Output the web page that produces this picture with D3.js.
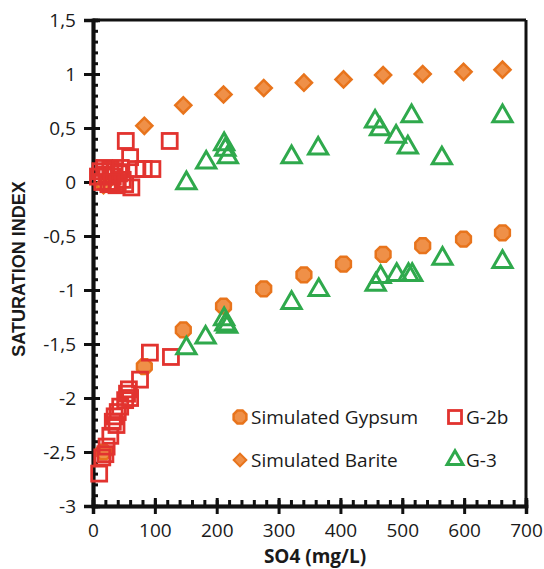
<!DOCTYPE html>
<html>
<head>
<meta charset="utf-8">
<script src="https://cdn.jsdelivr.net/npm/d3@7"></script>
<style>
  body { margin: 0; background: #fff; }
  svg { display: block; }
</style>
</head>
<body>
<div id="chart"></div>
<script>
const width = 544, height = 569;

// SO4 (mg/L) vs saturation index
const simX = [17, 83, 146, 211, 276, 341, 405, 469, 533, 599, 662];
const gypsumSI = [-2.5, -1.71, -1.37, -1.15, -0.99, -0.86, -0.76, -0.67, -0.59, -0.53, -0.47];
const bariteSI = [-0.03, 0.52, 0.71, 0.81, 0.87, 0.92, 0.95, 0.99, 1.0, 1.02, 1.04];

const g2bX = [8, 12, 15, 18, 22, 25, 28, 32, 35, 38, 42, 45, 48, 52, 40, 30, 62, 60, 53, 124, 70, 82, 96,
              92, 126, 76, 58, 55, 60, 52, 44, 40, 35, 32, 38, 28, 22, 20, 15, 10];
const g2bSI = [0.05, 0.10, 0.0, 0.13, 0.07, -0.02, 0.12, 0.05, 0.10, -0.03, 0.08, 0.13, 0.02, -0.02, 0.0, 0.0, -0.05, 0.23, 0.38, 0.38, 0.12, 0.12, 0.12,
               -1.58, -1.62, -1.83, -1.92, -1.96, -2.0, -2.02, -2.08, -2.13, -2.17, -2.22, -2.25, -2.35, -2.45, -2.52, -2.55, -2.7];

const g3X = [151, 183, 212, 214, 218, 321, 364, 456, 464, 515, 490, 509, 564, 662,
             151, 182, 212, 214, 217, 321, 365, 457, 465, 491, 510, 516, 565, 662];
const g3SI = [-0.01, 0.18, 0.35, 0.30, 0.23, 0.23, 0.31, 0.56, 0.49, 0.61, 0.42, 0.32, 0.22, 0.61,
              -1.54, -1.44, -1.27, -1.32, -1.34, -1.12, -1.0, -0.95, -0.88, -0.86, -0.86, -0.86, -0.71, -0.74];

const xTicks = [0, 100, 200, 300, 400, 500, 600, 700];
const yTicks = [-3, -2.5, -2, -1.5, -1, -0.5, 0, 0.5, 1, 1.5];

const orangeFill = "#ef9048", orangeStroke = "#e8741c";
const red = "#e2332f", green = "#2fa94c";

const x = d3.scaleLinear().domain([0, 700]).range([93, 526]);
const y = d3.scaleLinear().domain([-3, 1.5]).range([506, 20]);

const locale = d3.formatLocale({decimal: ",", thousands: ".", grouping: [3], currency: ["", ""], minus: "-"});
const fmt = locale.format(".1~f");

const svg = d3.select("#chart").append("svg")
    .attr("width", width)
    .attr("height", height)
    .style("font-family", "'Open Sans', sans-serif");

// octagon marker used for gypsum
const octagon = {
  draw(ctx, size) {
    const r = Math.sqrt(size / Math.PI);
    for (let i = 0; i < 8; i++) {
      const a = Math.PI / 8 + i * Math.PI / 4;
      if (i === 0) ctx.moveTo(r * Math.cos(a), r * Math.sin(a));
      else ctx.lineTo(r * Math.cos(a), r * Math.sin(a));
    }
    ctx.closePath();
  }
};

// frame
svg.append("line").attr("x1", x(0)).attr("x2", x(700)).attr("y1", y(1.5)).attr("y2", y(1.5))
  .attr("stroke", "#111").attr("stroke-width", 3);
svg.append("line").attr("x1", x(700)).attr("x2", x(700)).attr("y1", y(1.5)).attr("y2", y(-3))
  .attr("stroke", "#111").attr("stroke-width", 3);

// y axis: labels + outer half of major ticks
svg.append("g").attr("transform", `translate(${x(0)},0)`)
  .call(d3.axisLeft(y).tickValues(yTicks).tickFormat(fmt).tickSize(9).tickPadding(8));
svg.append("g").attr("transform", `translate(${x(0)},0)`)
  .call(d3.axisRight(y).tickValues(yTicks).tickFormat("").tickSize(7));
svg.append("g").attr("transform", `translate(${x(0)},0)`)
  .call(d3.axisRight(y).ticks(45).tickFormat("").tickSize(5));

// x axis
svg.append("g").attr("transform", `translate(0,${y(-3)})`)
  .call(d3.axisBottom(x).tickValues(xTicks).tickFormat(d3.format("d")).tickSize(8).tickPadding(10));
svg.append("g").attr("transform", `translate(0,${y(-3)})`)
  .call(d3.axisTop(x).tickValues(xTicks).tickFormat("").tickSize(8));
svg.append("g").attr("transform", `translate(0,${y(-3)})`)
  .call(d3.axisTop(x).ticks(35).tickFormat("").tickSize(6));

svg.selectAll(".domain").attr("stroke", "#111").attr("stroke-width", 3.5);
svg.selectAll(".tick line").attr("stroke", "#111").attr("stroke-width", 3);
svg.selectAll(".tick text").attr("font-size", 19).attr("fill", "#1a1a1a")
  .attr("font-family", "'Open Sans', sans-serif");

// axis titles
svg.append("text")
  .attr("x", 315).attr("y", 563)
  .attr("text-anchor", "middle")
  .attr("font-weight", "bold").attr("font-size", 19).attr("fill", "#1a1a1a")
  .text("SO4 (mg/L)");
svg.append("text")
  .attr("transform", `translate(25,${(y(1.5) + y(-3)) / 2 + 6}) rotate(-90)`)
  .attr("text-anchor", "middle")
  .attr("font-family", "'Liberation Sans', Arial, sans-serif")
  .attr("font-weight", "bold").attr("font-size", 18).attr("fill", "#1a1a1a")
  .text("SATURATION INDEX");

// series
const plot = svg.append("g");

plot.selectAll(".barite")
  .data(simX.map((d, i) => [d, bariteSI[i]]))
  .join("path")
  .attr("class", "barite")
  .attr("transform", d => `translate(${x(d[0])},${y(d[1])}) rotate(45)`)
  .attr("d", d3.symbol(d3.symbolSquare, 130)())
  .attr("fill", orangeFill).attr("stroke", orangeStroke).attr("stroke-width", 2.5);

plot.selectAll(".gypsum")
  .data(simX.map((d, i) => [d, gypsumSI[i]]))
  .join("path")
  .attr("class", "gypsum")
  .attr("transform", d => `translate(${x(d[0])},${y(d[1])})`)
  .attr("d", d3.symbol(octagon, 200)())
  .attr("fill", orangeFill).attr("stroke", orangeStroke).attr("stroke-width", 2.5);

plot.selectAll(".g2b")
  .data(g2bX.map((d, i) => [d, g2bSI[i]]))
  .join("rect")
  .attr("class", "g2b")
  .attr("x", d => x(d[0]) - 7.5).attr("y", d => y(d[1]) - 7.5)
  .attr("width", 15).attr("height", 15)
  .attr("fill", "none").attr("stroke", red).attr("stroke-width", 2.8);

plot.selectAll(".g3")
  .data(g3X.map((d, i) => [d, g3SI[i]]))
  .join("path")
  .attr("class", "g3")
  .attr("transform", d => `translate(${x(d[0])},${y(d[1])})`)
  .attr("d", d3.symbol(d3.symbolTriangle, 160)())
  .attr("fill", "none").attr("stroke", green).attr("stroke-width", 3);

// legend
const legendItems = [
  {label: "Simulated Gypsum", kind: "gypsum", lx: 240, ly: 417},
  {label: "Simulated Barite", kind: "barite", lx: 240, ly: 460},
  {label: "G-2b", kind: "g2b", lx: 455, ly: 417},
  {label: "G-3", kind: "g3", lx: 455, ly: 460}
];
const legend = svg.append("g");
const li = legend.selectAll("g").data(legendItems).join("g")
  .attr("transform", d => `translate(${d.lx},${d.ly})`);
li.each(function(d) {
  const g = d3.select(this);
  if (d.kind === "gypsum") {
    g.append("path").attr("d", d3.symbol(octagon, 150)())
      .attr("fill", orangeFill).attr("stroke", orangeStroke).attr("stroke-width", 2.5);
  } else if (d.kind === "barite") {
    g.append("path").attr("d", d3.symbol(d3.symbolSquare, 80)()).attr("transform", "rotate(45)")
      .attr("fill", orangeFill).attr("stroke", orangeStroke).attr("stroke-width", 2);
  } else if (d.kind === "g2b") {
    g.append("rect").attr("x", -6.5).attr("y", -6.5).attr("width", 13).attr("height", 13)
      .attr("fill", "none").attr("stroke", red).attr("stroke-width", 2.8);
  } else {
    g.append("path").attr("d", d3.symbol(d3.symbolTriangle, 110)())
      .attr("fill", "none").attr("stroke", green).attr("stroke-width", 3);
  }
  g.append("text").attr("x", 11).attr("y", 6.5)
    .attr("font-size", 19).attr("fill", "#1a1a1a")
    .text(d.label);
});
</script>
</body>
</html>
